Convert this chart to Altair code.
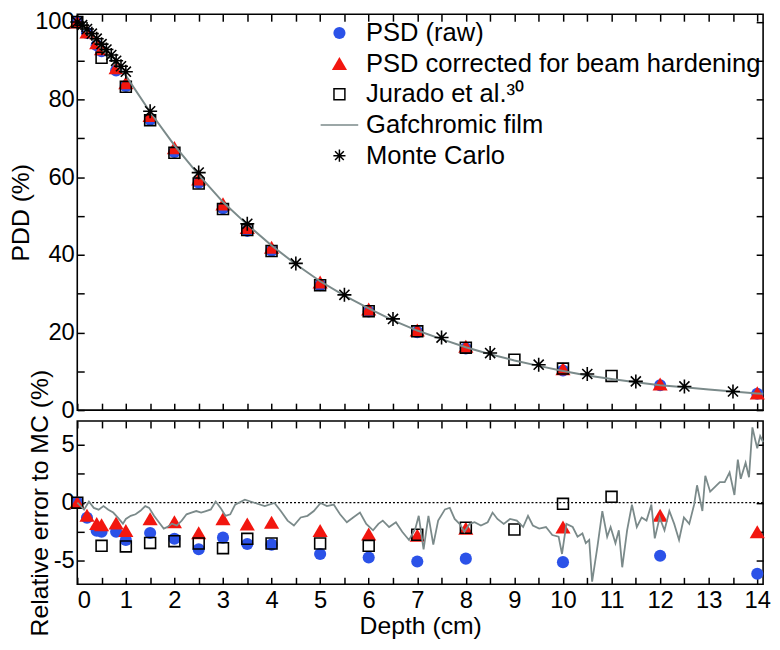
import altair as alt
import pandas as pd

FONT = "Liberation Sans"
BLUE = "#2b52e8"
RED = "#f2160f"
GREY = "#7b8a8a"
TICK = 7

# ---------------- data ----------------
SERIES = ["PSD (raw)", "PSD corrected for beam hardening", "Jurado et al.\u00b3\u2070",
          "Gafchromic film", "Monte Carlo"]

psd_depth = [0, 0.2, 0.4, 0.5, 0.8, 1.0, 1.5, 2.0, 2.5, 3.0, 3.5, 4.0, 5, 6, 7, 8, 10, 12, 14]
psd_raw_pdd = [100, 97.2, 94.0, 92.5, 87.5, 83.5, 74.8, 66.5, 58.6, 52.0, 46.2, 41.1, 32.2,
               25.4, 20.1, 15.9, 10.2, 6.4, 4.2]
psd_cor_pdd = [100, 97.4, 94.6, 93.1, 88.2, 84.3, 75.9, 67.6, 59.5, 53.1, 47.0, 41.9, 33.0,
               26.0, 20.6, 16.4, 10.6, 6.7, 4.4]
psd_raw_err = [0, -1.3, -2.4, -2.5, -2.5, -3.2, -2.6, -3.1, -4.0, -3.0, -3.55, -3.6, -4.4,
               -4.7, -5.05, -4.8, -5.1, -4.55, -6.1]
psd_cor_err = [0, -1.1, -1.8, -1.9, -1.75, -2.4, -1.4, -1.65, -2.6, -1.4, -1.85, -1.7, -2.4,
               -2.7, -2.8, -2.2, -2.1, -1.1, -2.5]

jur_depth = [0, 0.5, 1, 1.5, 2, 2.5, 3, 3.5, 4, 5, 6, 7, 8, 9, 10, 11]
jur_pdd = [100, 90.8, 83.3, 74.7, 66.3, 58.4, 51.8, 46.4, 41.0, 32.2, 25.5, 20.3, 16.1, 13.0,
           10.7, 8.8]
jur_err = [0, -3.7, -3.75, -3.45, -3.3, -3.5, -3.9, -3.1, -3.5, -3.5, -3.7, -2.75, -2.15,
           -2.3, -0.1, 0.5]

mc_depth = [0, 0.1, 0.2, 0.3, 0.4, 0.5, 0.6, 0.7, 0.8, 0.9, 1.0, 1.5, 2.5, 3.5, 4.5, 5.5,
            6.5, 7.5, 8.5, 9.5, 10.5, 11.5, 12.5, 13.5]
mc_pdd = [100, 99.2, 98.2, 97.0, 95.7, 94.3, 92.9, 91.5, 90.0, 88.6, 87.2, 77.0, 61.2, 48.0,
          37.8, 29.7, 23.5, 18.7, 14.7, 11.7, 9.3, 7.4, 6.1, 4.8]

film_depth = [0, 0.5, 1, 1.5, 2, 2.5, 3, 3.5, 4, 4.5, 5, 5.5, 6, 6.5, 7, 7.5, 8, 8.5, 9,
              9.5, 10, 10.5, 11, 11.5, 12, 12.5, 13, 13.5, 14, 14.12]
film_pdd = [100, 93.2, 86.2, 76.8, 68.2, 60.6, 53.6, 47.8, 42.4, 37.6, 33.2, 29.5, 26.2,
            23.1, 20.5, 18.3, 16.2, 14.4, 12.8, 11.4, 10.1, 8.9, 8.0, 7.2, 6.4, 5.9, 5.3,
            4.8, 4.3, 4.2]

film_err_depth = [0.0, 0.07, 0.14, 0.24, 0.34, 0.44, 0.54, 0.64, 0.74, 0.84, 0.94, 1.0, 1.1,
                  1.2, 1.3, 1.4, 1.48, 1.58, 1.68, 1.78, 1.85, 1.95, 2.05, 2.15, 2.25, 2.35,
                  2.45, 2.55, 2.65, 2.75, 2.85, 2.95, 3.05, 3.15, 3.25, 3.45, 3.66, 3.86,
                  4.06, 4.19, 4.33, 4.46, 4.6, 4.74, 4.87, 5.01, 5.14, 5.28, 5.41, 5.55,
                  5.68, 5.82, 5.95, 6.09, 6.2, 6.29, 6.42, 6.56, 6.69, 6.83, 6.96, 7.03,
                  7.13, 7.23, 7.33, 7.43, 7.57, 7.67, 7.77, 7.87, 7.97, 8.08, 8.18, 8.31,
                  8.45, 8.55, 8.65, 8.78, 8.91, 9.05, 9.18, 9.28, 9.38, 9.51, 9.65, 9.78,
                  9.91, 9.98, 10.07, 10.2, 10.3, 10.4, 10.47, 10.54, 10.6, 10.71, 10.81,
                  10.91, 10.98, 11.08, 11.15, 11.22, 11.32, 11.42, 11.52, 11.62, 11.72,
                  11.82, 11.89, 11.99, 12.09, 12.19, 12.29, 12.39, 12.49, 12.6, 12.7,
                  12.76, 12.87, 12.93, 13.03, 13.13, 13.23, 13.33, 13.43, 13.53, 13.6,
                  13.66, 13.76, 13.83, 13.9, 13.96, 14.0, 14.06, 14.12]
film_err = [0.0, -0.3, -0.6, 0.1, -0.45, -0.6, -0.3, -0.6, -0.85, -1.3, -1.8, -1.4, -1.13,
            -1.0, -0.7, -0.3, -0.45, -1.13, -1.68, -2.23, -2.1, -1.8, -1.96, -1.54, -1.0,
            -0.85, -0.72, -0.85, -0.72, -0.58, 0.1, -0.45, -1.13, -1.0, -0.17, 0.25, -0.03,
            -0.3, -0.03, -0.72, -1.54, -1.96, -1.27, -1.13, -0.72, -0.03, -0.3, -0.17,
            -1.0, -1.68, -1.27, -0.85, -1.82, -2.37, -1.82, -1.54, -2.09, -1.68, -2.5,
            -3.2, -2.23, -1.13, -4.0, -1.13, -3.6, -1.54, -0.58, -0.44, -1.4, -1.82, -2.5,
            -1.82, -1.68, -1.96, -1.68, -0.85, -1.4, -1.82, -1.4, -1.54, -2.09, -1.13,
            -1.96, -2.23, -2.09, -2.78, -2.92, -4.4, -1.82, -2.09, -2.92, -2.64, -3.47,
            -3.2, -6.78, -3.75, -0.72, -2.92, -2.09, -3.47, -2.37, -5.54, -2.37, -0.17,
            -2.09, -1.27, -1.54, -0.17, -3.06, -1.27, -2.37, -0.72, -1.82, -3.2, -1.27,
            -1.82, -0.17, 1.49, -0.72, 2.31, 0.94, 1.35, 1.76, 1.76, 2.59, 0.66, 3.69,
            2.04, 3.42, 2.18, 6.45, 5.35, 4.66, 5.7, 5.2]

zero_line = [0]

x_label_values = [0, 1, 2, 3, 4, 5, 6, 7, 8, 9, 10, 11, 12, 13, 14]
x_tick_values = [0, 0.5, 1, 1.5, 2, 2.5, 3, 3.5, 4, 4.5, 5, 5.5, 6, 6.5, 7, 7.5, 8, 8.5,
                 9, 9.5, 10, 10.5, 11, 11.5, 12, 12.5, 13, 13.5, 14]
top_label_values = [0, 20, 40, 60, 80, 100]
top_tick_values = [0, 10, 20, 30, 40, 50, 60, 70, 80, 90, 100]
bot_label_values = [-5, 0, 5]
bot_tick_values = [-5, -2.5, 0, 2.5, 5]

# ---------------- shapes / scales ----------------
TRI = "M0,-1.1L1.25,1.05L-1.25,1.05Z"
SQUARE = "M-0.9,-0.9H0.9V0.9H-0.9Z"
LINE = "M-3.1,0H3.1"
STAR = "M0,-1V1M-1,0H1M-0.72,-0.72L0.72,0.72M-0.72,0.72L0.72,-0.72"

x_scale = alt.Scale(domain=[0, 14.12], nice=False, zero=False)
top_scale = alt.Scale(domain=[0, 102], nice=False, zero=False)
bot_scale = alt.Scale(domain=[-7, 7], nice=False, zero=False)

fill_scale = alt.Scale(domain=SERIES, range=[BLUE, RED, "transparent", "transparent", "transparent"])
stroke_scale = alt.Scale(domain=SERIES, range=["transparent", "transparent", "black", GREY, "black"])
shape_scale = alt.Scale(domain=SERIES, range=["circle", TRI, SQUARE, LINE, STAR])

legend = alt.Legend(orient="none", legendX=252, legendY=6, title=None, labelFontSize=25.8,
                    labelFont=FONT, labelLimit=800, symbolSize=150, symbolStrokeWidth=1.5,
                    rowPadding=4, labelOffset=14, padding=0)

LBL = "datum.value + ''"


def axis_layers(df, yscale, ylabels, yticks, ytitle, show_x):
    base = alt.Chart(df).mark_line(opacity=0)
    if show_x:
        xa = alt.X("d:Q", scale=x_scale, title="Depth (cm)",
                   axis=alt.Axis(orient="bottom", values=x_label_values, ticks=False,
                                 domain=False, grid=False, labelExpr=LBL, labelPadding=4,
                                 titlePadding=2))
    else:
        xa = alt.X("d:Q", scale=x_scale, axis=None)
    a = base.encode(
        x=xa,
        y=alt.Y("v:Q", scale=yscale, title=ytitle,
                axis=alt.Axis(orient="left", values=ylabels, ticks=False, domain=False,
                              grid=False, labelExpr=LBL, labelPadding=3, titlePadding=1)))
    b = base.encode(
        x=alt.X("d:Q", scale=x_scale, title=None,
                axis=alt.Axis(orient="bottom", values=x_tick_values, offset=-TICK,
                              tickSize=TICK, labels=False, domain=False, grid=False)),
        y=alt.Y("v:Q", scale=yscale, title=None,
                axis=alt.Axis(orient="left", values=yticks, offset=-TICK, tickSize=TICK,
                              labels=False, domain=False, grid=False)))
    c = base.encode(
        x=alt.X("d:Q", scale=x_scale, title=None,
                axis=alt.Axis(orient="top", values=x_tick_values, offset=-TICK,
                              tickSize=TICK, labels=False, domain=False, grid=False)),
        y=alt.Y("v:Q", scale=yscale, title=None,
                axis=alt.Axis(orient="right", values=yticks, offset=-TICK, tickSize=TICK,
                              labels=False, domain=False, grid=False)))
    return [a, b, c]


def tdf(d, v, s):
    return pd.DataFrame({"d": d, "v": v, "s": s})


# ---------------- top panel ----------------
raw_top = tdf(psd_depth, psd_raw_pdd, SERIES[0])
cor_top = tdf(psd_depth, psd_cor_pdd, SERIES[1])
jur_top = tdf(jur_depth, jur_pdd, SERIES[2])
film_top = tdf(film_depth, film_pdd, SERIES[3])
mc_top = tdf(mc_depth, mc_pdd, SERIES[4])


def top_enc():
    return dict(
        x=alt.X("d:Q", scale=x_scale, axis=None),
        y=alt.Y("v:Q", scale=top_scale, axis=None),
        fill=alt.Fill("s:N", scale=fill_scale, legend=legend),
        stroke=alt.Stroke("s:N", scale=stroke_scale, legend=legend),
        shape=alt.Shape("s:N", scale=shape_scale, legend=legend),
    )


pts_top = [
    alt.Chart(raw_top).mark_point(filled=True, size=150, strokeWidth=1.5, opacity=1).encode(**top_enc()),
    alt.Chart(cor_top).mark_point(filled=True, size=150, strokeWidth=1.5, opacity=1).encode(**top_enc()),
    alt.Chart(jur_top).mark_point(filled=True, size=150, strokeWidth=1.6, opacity=1).encode(**top_enc()),
]
line_top = alt.Chart(film_top).mark_line(strokeWidth=2).encode(
    x=alt.X("d:Q", scale=x_scale, axis=None),
    y=alt.Y("v:Q", scale=top_scale, axis=None),
    stroke=alt.Stroke("s:N", scale=stroke_scale, legend=legend),
)
mc_layer = alt.Chart(mc_top).mark_point(filled=True, size=200, strokeWidth=1.6, opacity=1).encode(**top_enc())

top = alt.layer(
    *axis_layers(film_top, top_scale, top_label_values, top_tick_values, "PDD (%)", False),
    *pts_top, line_top, mc_layer
).resolve_axis(x="independent", y="independent").properties(width=693, height=400)

# ---------------- bottom panel ----------------
raw_bot = tdf(psd_depth, psd_raw_err, SERIES[0])
cor_bot = tdf(psd_depth, psd_cor_err, SERIES[1])
jur_bot = tdf(jur_depth, jur_err, SERIES[2])
film_bot = tdf(film_err_depth, film_err, SERIES[3])
zero_df = pd.DataFrame({"v": zero_line})


def benc():
    return dict(x=alt.X("d:Q", scale=x_scale, axis=None),
                y=alt.Y("v:Q", scale=bot_scale, axis=None))


zero_rule = alt.Chart(zero_df).mark_rule(color="black", strokeDash=[2, 2], strokeWidth=1.3).encode(
    y=alt.Y("v:Q", scale=bot_scale, axis=None))
bot_layers = [
    zero_rule,
    alt.Chart(raw_bot).mark_point(shape="circle", filled=True, size=150, color=BLUE, opacity=1).encode(**benc()),
    alt.Chart(cor_bot).mark_point(shape=TRI, filled=True, size=150, color=RED, opacity=1).encode(**benc()),
    alt.Chart(jur_bot).mark_point(shape=SQUARE, filled=False, size=150, color="black",
                                  strokeWidth=1.6, opacity=1).encode(**benc()),
    alt.Chart(film_bot).mark_line(color=GREY, strokeWidth=1.8).encode(**benc()),
]

bottom = alt.layer(
    *axis_layers(film_bot, bot_scale, bot_label_values, bot_tick_values,
                 "Relative error to MC (%)", True),
    *bot_layers
).resolve_axis(x="independent", y="independent").properties(width=693, height=165)

chart = alt.vconcat(top, bottom, spacing=11, bounds="flush").resolve_scale(
    fill="independent", stroke="independent", shape="independent"
).resolve_legend(
    fill="independent", stroke="independent", shape="independent"
).properties(
    padding={"top": -2, "left": 0, "right": 0, "bottom": 0}
).configure_view(
    stroke="black", strokeWidth=1.6
).configure_axis(
    labelFont=FONT, titleFont=FONT, labelFontSize=24, titleFontSize=25,
    labelColor="black", titleColor="black", titleFontWeight="normal", tickColor="black",
    tickWidth=1.5
).configure_legend(labelFont=FONT, labelColor="black")

chart.save("out.html", embed_options={"renderer": "svg", "actions": False})
